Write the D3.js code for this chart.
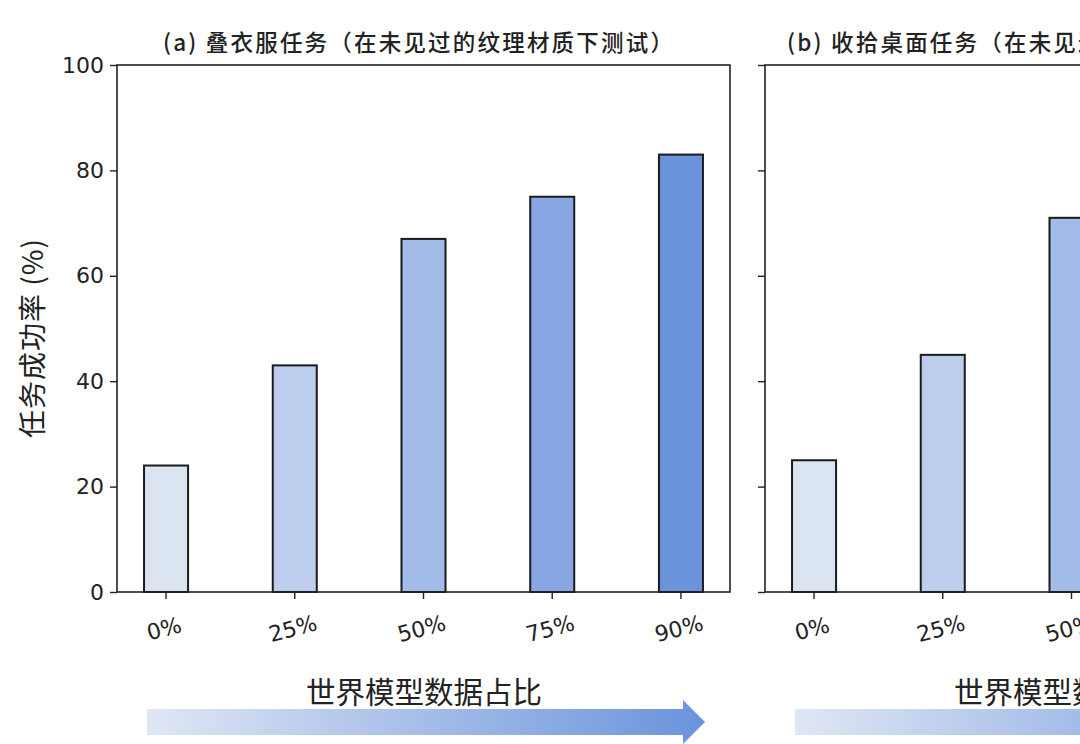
<!DOCTYPE html>
<html>
<head>
<meta charset="utf-8">
<script src="https://cdn.jsdelivr.net/npm/d3@7/dist/d3.min.js"></script>
<style>
  body { margin: 0; background: #fff; }
  svg { display: block; }
</style>
</head>
<body>
<div id="chart"></div>
<script>
// data
var categories = ["0%", "25%", "50%", "75%", "90%"];
var foldValues = [24, 43, 67, 75, 83];   // (a) fold clothes
var tidyValues = [25, 45, 71];           // (b) tidy desk, rest is cut off in the picture
var barColors = ["#dbe4f1", "#bdcdee", "#a3bbe8", "#88a6e3", "#6b93dc"];
var yTicks = [0, 20, 40, 60, 80, 100];
var titles = ["(a) 叠衣服任务（在未见过的纹理材质下测试）", "(b) 收拾桌面任务（在未见过的纹理材质下测试）"];

var width = 1080, height = 744;
var plotTop = 65, plotBottom = 592, panelW = 613;
var panelX = [117, 765];
var titleStart = [163, 787];
var tickFont = "'DejaVu Sans', sans-serif";
var cjkFont = "'Noto Sans CJK SC', 'DejaVu Sans', sans-serif";

var svg = d3.select("#chart").append("svg")
    .attr("width", width)
    .attr("height", height);

var defs = svg.append("defs");
var grad = defs.append("linearGradient").attr("id", "arrowGrad")
    .attr("x1", "0%").attr("x2", "100%").attr("y1", "0%").attr("y2", "0%");
grad.append("stop").attr("offset", "0%").attr("stop-color", "#dfe7f4");
grad.append("stop").attr("offset", "100%").attr("stop-color", "#6a93dc");

var y = d3.scaleLinear().domain([0, 100]).range([plotBottom, plotTop]);

function drawPanel(i, values) {
  var x0 = panelX[i];
  var x = d3.scaleBand().domain(categories)
      .range([x0, x0 + panelW])
      .paddingInner(0.658)
      .paddingOuter(0.21);

  var g = svg.append("g");

  // bars
  g.selectAll("rect.bar")
    .data(values)
    .enter().append("rect")
      .attr("class", "bar")
      .attr("x", function(d, j) { return x(categories[j]); })
      .attr("y", function(d) { return y(d); })
      .attr("width", x.bandwidth())
      .attr("height", function(d) { return y(0) - y(d); })
      .attr("fill", function(d, j) { return barColors[j]; })
      .attr("stroke", "#1b1b1b")
      .attr("stroke-width", 2);

  // frame
  g.append("rect")
    .attr("x", x0).attr("y", plotTop)
    .attr("width", panelW).attr("height", plotBottom - plotTop)
    .attr("fill", "none")
    .attr("stroke", "#222")
    .attr("stroke-width", 1.6);

  // y axis
  var yAxis = d3.axisLeft(y).tickValues(yTicks).tickSize(7).tickPadding(6)
      .tickFormat(i === 0 ? d3.format("d") : function() { return ""; });
  var ya = g.append("g").attr("transform", "translate(" + x0 + ",0)").call(yAxis);
  ya.select(".domain").remove();
  ya.selectAll("line").attr("stroke", "#222").attr("stroke-width", 1.4);
  ya.selectAll("text")
    .attr("font-family", tickFont)
    .attr("font-size", 22).attr("fill", "#222");

  // x axis
  var xAxis = d3.axisBottom(x).tickSize(7).tickPadding(4);
  var xa = g.append("g").attr("transform", "translate(0," + plotBottom + ")").call(xAxis);
  xa.select(".domain").remove();
  xa.selectAll("line").attr("stroke", "#222").attr("stroke-width", 1.4);
  xa.selectAll("text")
    .attr("font-family", tickFont)
    .attr("font-size", 22).attr("fill", "#222")
    .attr("text-anchor", "middle")
    .attr("dy", null).attr("y", 0)
    .attr("transform", "translate(0,44) rotate(-15)");

  // title
  svg.append("text")
    .attr("x", titleStart[i]).attr("y", plotTop - 14)
    .attr("font-size", 22.5)
    .attr("font-weight", 500)
    .attr("letter-spacing", 2.2)
    .attr("font-family", cjkFont)
    .attr("fill", "#222")
    .text(titles[i]);

  // x label
  svg.append("text")
    .attr("x", x0 + 307).attr("y", 703)
    .attr("text-anchor", "middle")
    .attr("font-size", 29.5)
    .attr("font-family", cjkFont)
    .attr("fill", "#222")
    .text("世界模型数据占比");

  // gradient arrow
  var ax = x0 + 30, aw = 558, ay = 722;
  svg.append("path")
    .attr("d", d3.line()([
      [ax, ay - 13], [ax + aw - 22, ay - 13], [ax + aw - 22, ay - 22],
      [ax + aw, ay], [ax + aw - 22, ay + 22], [ax + aw - 22, ay + 13], [ax, ay + 13]
    ]) + "Z")
    .attr("fill", "url(#arrowGrad)");
}

drawPanel(0, foldValues);
drawPanel(1, tidyValues);

// y label
svg.append("text")
  .attr("transform", "translate(43,338) rotate(-90)")
  .attr("text-anchor", "middle")
  .attr("font-size", 28)
  .attr("letter-spacing", 1)
  .attr("font-family", cjkFont)
  .attr("fill", "#222")
  .text("任务成功率 (%)");
</script>
</body>
</html>
